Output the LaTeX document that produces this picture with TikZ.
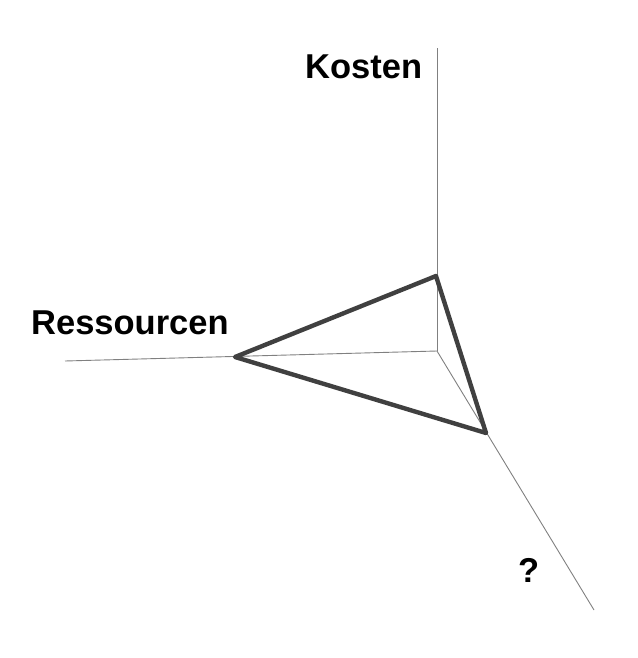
\documentclass[tikz,border=0pt]{standalone}
\usepackage{fontspec}
\setmainfont{Liberation Sans}
\usetikzlibrary{positioning}
\tikzset{axis/.style = {draw=gray, line width=0.9pt},
         profile/.style = {draw=black!75, line width=4.4pt, line join=round},
         label/.style = {inner sep=0pt, anchor=base west, font=\fontsize{34.5}{34.5}\selectfont\bfseries}}

\begin{document}
\begin{tikzpicture}[x=1pt, y=-1pt]
    \useasboundingbox (0, 0) rectangle (637, 658);
    \coordinate (O) at (437, 351);
    \coordinate (kend) at (437, 48);
    \coordinate (rend) at (65, 361);
    \coordinate (qend) at (594, 610);
    \draw [axis] (O) -- (kend);
    \draw [axis] (O) -- (rend);
    \draw [axis] (O) -- (qend);
    \coordinate (k) at (436, 276);
    \coordinate (r) at (235, 357);
    \coordinate (q) at (486, 433);
    \draw [profile] (k) -- (r) -- (q) -- cycle;
    \node [label] (kosten) at (305, 79) {Kosten};
    \node [label] (ressourcen) at (31, 334) {Ressourcen};
    \node [label] (frage) at (518, 582) {?};
  \end{tikzpicture}
\end{document}
